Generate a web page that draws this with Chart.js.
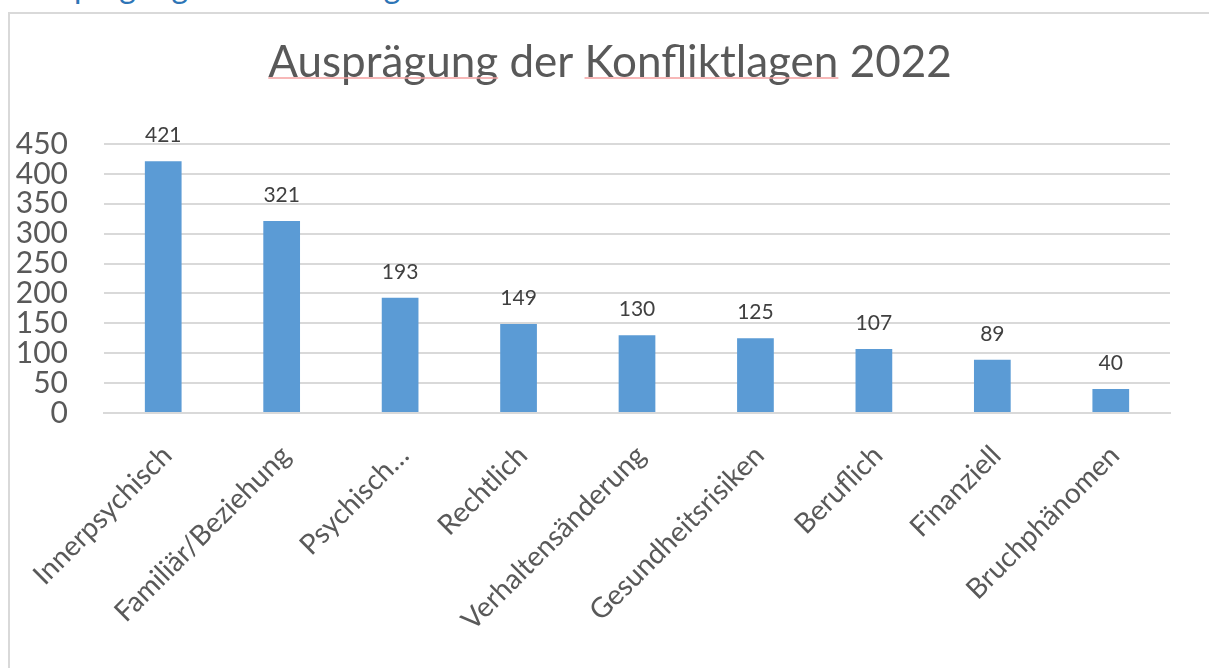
<!DOCTYPE html>
<html>
<head>
<meta charset="utf-8">
<script src="https://cdn.jsdelivr.net/npm/chart.js@4.4.1/dist/chart.umd.min.js"></script>
<style>
  html, body { margin: 0; padding: 0; background: #fff; overflow: hidden; }
  #wrap { position: relative; width: 1209px; height: 668px; }
  #frame { position: absolute; left: 8px; top: 12px; right: 0; bottom: 0;
           border-left: 2px solid #d9d9d9; border-top: 2px solid #d9d9d9; }
  #heading { position: absolute; left: 21px; top: -29px; font: 32px Lato, sans-serif;
             color: #2e75b6; line-height: 30px; white-space: nowrap; }
  canvas { position: absolute; left: 0; top: 0; }
</style>
</head>
<body>
<div id="wrap">
  <div id="heading">Ausprägung der Konfliktlagen</div>
  <div id="frame"></div>
  <canvas id="chart" width="1209" height="668"></canvas>
</div>
<script>
// Konfliktlagen 2022
const kategorien = ['Innerpsychisch', 'Familiär/Beziehung', 'Psychisch…', 'Rechtlich',
    'Verhaltensänderung', 'Gesundheitsrisiken', 'Beruflich', 'Finanziell', 'Bruchphänomen'];
const anzahl = [421, 321, 193, 149, 130, 125, 107, 89, 40];
const titel = 'Ausprägung der Konfliktlagen 2022';

const grau = '#595959';
const titelFont = '44px Lato, sans-serif';

// Titel selbst zeichnen (zentriert über dem Rahmen) + rote Rechtschreib-Unterstreichung
const titelPlugin = {
    id: 'titelPlugin',
    afterDraw(chart) {
        const ctx = chart.ctx;
        ctx.save();
        ctx.font = titelFont;
        ctx.fillStyle = grau;
        ctx.textBaseline = 'alphabetic';
        const gesamt = ctx.measureText(titel).width;
        const start = 610 - gesamt / 2;
        const base = 77;
        ctx.fillText(titel, start, base);
        ctx.strokeStyle = '#f4a0a0';
        ctx.lineWidth = 1.5;
        ['Ausprägung', 'Konfliktlagen'].forEach(w => {
            const idx = titel.indexOf(w);
            const x0 = start + ctx.measureText(titel.slice(0, idx)).width;
            const x1 = x0 + ctx.measureText(w).width;
            ctx.beginPath();
            ctx.moveTo(x0, base + 1);
            ctx.lineTo(x1, base + 1);
            ctx.stroke();
        });
        ctx.restore();
    }
};

// Werte über den Balken
const wertLabels = {
    id: 'wertLabels',
    afterDatasetsDraw(chart) {
        const ctx = chart.ctx;
        const meta = chart.getDatasetMeta(0);
        ctx.save();
        ctx.font = '21px Lato, sans-serif';
        ctx.fillStyle = '#404040';
        ctx.textAlign = 'center';
        ctx.textBaseline = 'alphabetic';
        meta.data.forEach((bar, i) => {
            ctx.fillText(anzahl[i], bar.x, bar.y - 19);
        });
        ctx.restore();
    }
};

const ctx = document.getElementById('chart').getContext('2d');
new Chart(ctx, {
    type: 'bar',
    data: {
        labels: kategorien,
        datasets: [{
            data: anzahl,
            backgroundColor: '#5b9bd5',
            barPercentage: 0.31,
            categoryPercentage: 1
        }]
    },
    options: {
        responsive: false,
        animation: false,
        layout: { padding: { left: 0, right: 39, top: 144, bottom: 0 } },
        plugins: {
            legend: { display: false },
            tooltip: { enabled: false },
            title: { display: false }
        },
        scales: {
            y: {
                min: 0,
                max: 450,
                ticks: {
                    stepSize: 50,
                    autoSkip: false,
                    color: grau,
                    font: { family: 'Lato, sans-serif', size: 30 },
                    padding: 36
                },
                grid: { color: '#d9d9d9', lineWidth: 2, drawTicks: false },
                border: { display: false },
                afterFit(scale) { scale.width = 104; }
            },
            x: {
                ticks: {
                    color: grau,
                    font: { family: 'Lato, sans-serif', size: 28 },
                    maxRotation: 45,
                    minRotation: 45,
                    autoSkip: false,
                    padding: 26,
                    labelOffset: 4
                },
                grid: { display: false, drawTicks: false },
                border: { color: '#d9d9d9', width: 2 },
                afterFit(scale) { scale.height = 255; }
            }
        }
    },
    plugins: [wertLabels, titelPlugin]
});
</script>
</body>
</html>
